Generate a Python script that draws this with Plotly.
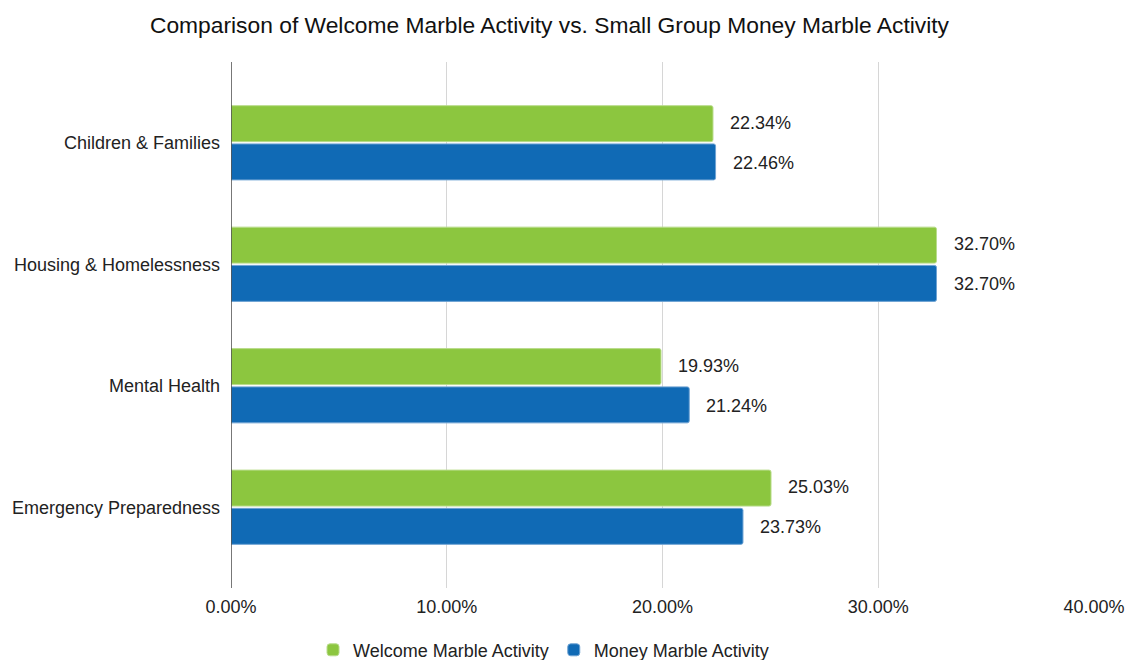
import plotly.graph_objects as go

categories = ["Children & Families", "Housing & Homelessness", "Mental Health", "Emergency Preparedness"]
welcome_values = [22.34, 32.70, 19.93, 25.03]
money_values = [22.46, 32.70, 21.24, 23.73]
x_ticks = [0, 10, 20, 30, 40]
x_tick_labels = ["0.00%", "10.00%", "20.00%", "30.00%", "40.00%"]

GREEN = "#8CC63F"
BLUE = "#106AB5"
FONT = "Liberation Sans, Arial, sans-serif"

fig = go.Figure()

fig.add_trace(go.Bar(
    y=categories, x=welcome_values, orientation="h",
    name="Welcome Marble Activity",
    marker=dict(color=GREEN, line=dict(color="#b9dc8c", width=1), cornerradius=2),
))
fig.add_trace(go.Bar(
    y=categories, x=money_values, orientation="h",
    name="Money Marble Activity",
    marker=dict(color=BLUE, line=dict(color="#6fa3d3", width=1), cornerradius=2),
))

# value labels to the right of each bar (green bar sits above, blue below)
annotations = []
for i, cat in enumerate(categories):
    for vals, shift in ((welcome_values, 20), (money_values, -20)):
        annotations.append(dict(
            x=vals[i], y=cat, xref="x", yref="y",
            text=f"{vals[i]:.2f}%", showarrow=False,
            xanchor="left", xshift=15, yshift=shift,
            font=dict(size=18, color="#222222", family=FONT),
        ))

fig.update_layout(
    width=1126, height=660,
    margin=dict(l=231, r=32, t=62, b=72, autoexpand=False),
    paper_bgcolor="white", plot_bgcolor="white",
    font=dict(family=FONT, size=18, color="#222222"),
    title=dict(
        text="Comparison of Welcome Marble Activity vs. Small Group Money Marble Activity",
        x=0.488, xanchor="center", y=0.962, yanchor="middle",
        font=dict(size=22.8, color="#111111", family=FONT),
    ),
    barmode="group", bargap=0.37, bargroupgap=0.06,
    xaxis=dict(
        range=[0, 40], tickvals=x_ticks, ticktext=x_tick_labels,
        showgrid=True, gridcolor="#d6d6d6", gridwidth=1,
        zeroline=False, showline=False, ticks="", automargin=False,
        ticklabelstandoff=6,
        tickfont=dict(size=18, color="#222222"),
    ),
    yaxis=dict(
        range=[3.665, -0.665], showgrid=False, zeroline=False,
        showline=False, ticks="", ticklabelstandoff=10, automargin=False,
        tickfont=dict(size=18, color="#222222"),
    ),
    shapes=[dict(type="line", xref="x", yref="paper", x0=0, x1=0, y0=0, y1=1,
                 line=dict(color="#4a4a4a", width=1.5))],
    legend=dict(
        orientation="h", x=0.4827, xanchor="center", xref="container",
        y=0.015, yanchor="middle", yref="container",
        font=dict(size=18, color="#222222"), itemwidth=30, traceorder="normal",
    ),
    annotations=annotations,
)

fig.write_html("out.html", config={"displayModeBar": False},
               post_script="document.body.style.margin='0';")
